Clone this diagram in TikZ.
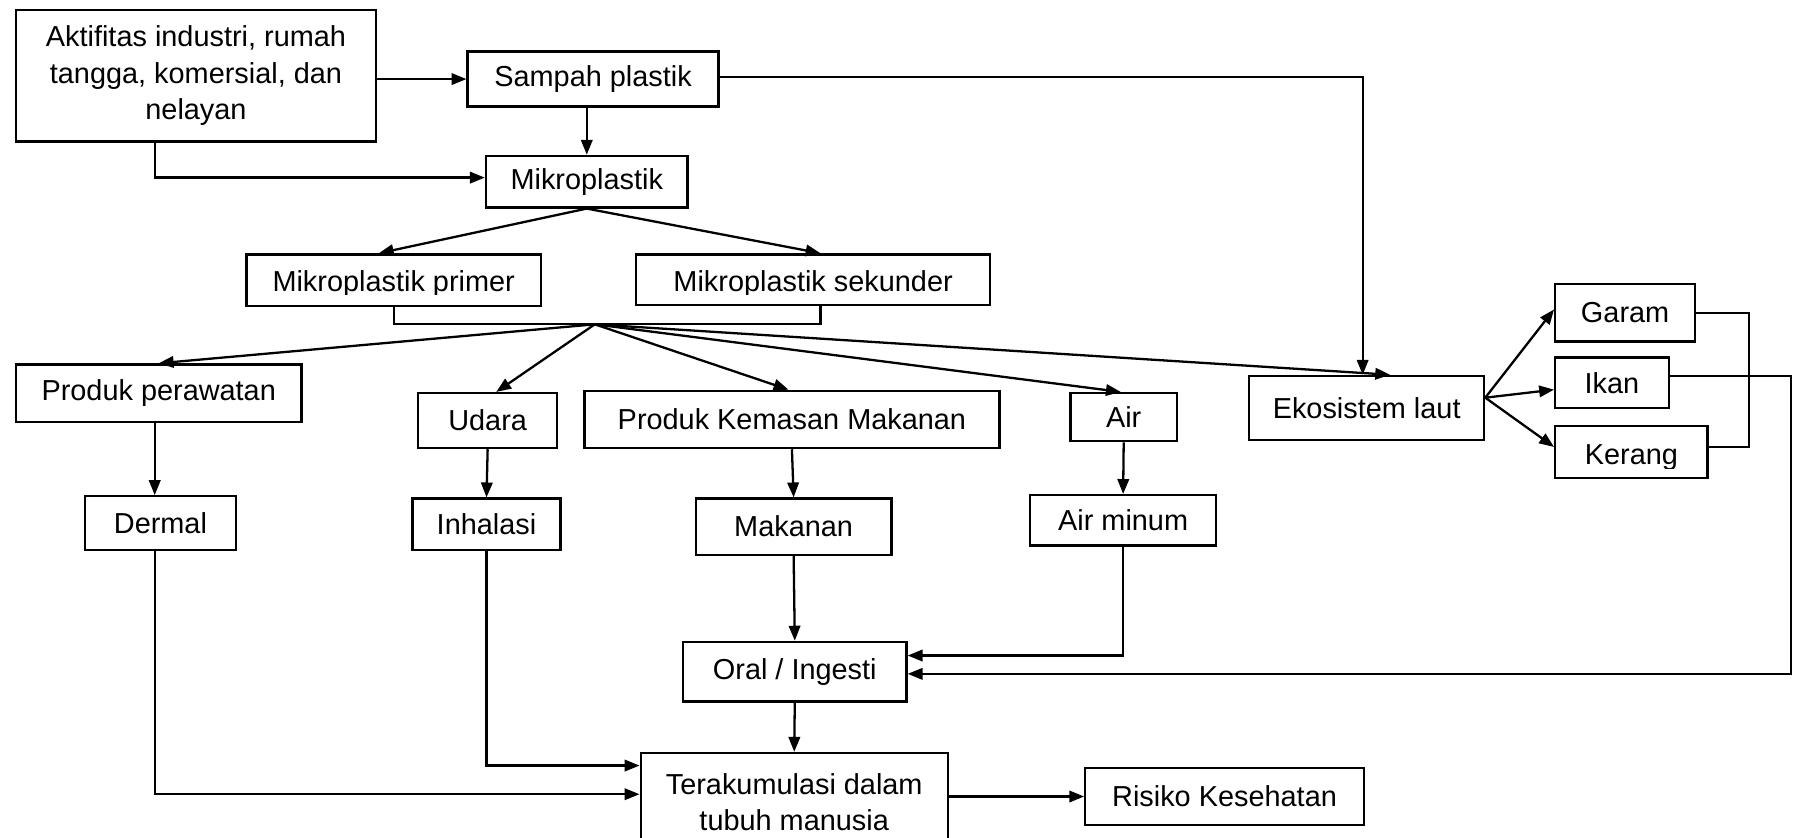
\documentclass[tikz,border=0pt]{standalone}
\usepackage{fontspec}
\setmainfont{Liberation Sans}
\usetikzlibrary{arrows.meta,calc}
\begin{document}
\begin{tikzpicture}[x=0.5pt,y=-0.5pt,
  box/.style={draw, line width=1pt, inner sep=0pt, align=center, font=\fontsize{12.6}{15.8}\selectfont},
  txt/.style={inner sep=0pt, font=\fontsize{12.6}{15.8}\selectfont, anchor=base},
  wh/.style 2 args={minimum width=#1*0.5pt, minimum height=#2*0.5pt},
  line/.style={line width=1pt},
  arr/.style={line width=1pt, -{Triangle[length=6.5pt,width=5pt]}}]
\useasboundingbox (0,0) rectangle (1568,731);
% nodes
\node[box,wh={314}{115}] (akt) at (171,66) {Aktifitas industri, rumah\\tangga, komersial, dan\\nelayan};
\node[box,wh={219}{48}] (sampah) at (517.5,69) {Sampah plastik};
\node[box,wh={176}{45}] (mikro) at (512,158.5) {Mikroplastik};
\node[box,wh={257}{45}] (primer) at (343.5,244.5) {};
\node[box,wh={309}{44}] (sekunder) at (709.5,244) {};
\node[box,wh={249}{50}] (produk) at (138.5,343) {Produk perawatan};
\node[box,wh={121}{48}] (udara) at (425.5,367) {Udara};
\node[box,wh={362}{50}] (kemasan) at (691,366) {Produk Kemasan Makanan};
\node[box,wh={93}{42}] (air) at (980.5,364) {Air};
\node[box,wh={205}{56}] (eko) at (1192.5,356) {Ekosistem laut};
\node[box,wh={122}{50}] (garam) at (1418,273) {Garam};
\node[box,wh={99}{44}] (ikan) at (1406.5,334) {Ikan};
\node[box,wh={133}{45}] (kerang) at (1423.5,394.5) {};
\node[box,wh={132}{47}] (dermal) at (140,456.5) {Dermal};
\node[box,wh={129}{45}] (inhal) at (424.5,457.5) {Inhalasi};
\node[box,wh={171}{49}] (makanan) at (692.5,459.5) {Makanan};
\node[box,wh={162}{44}] (airmin) at (980,454) {Air minum};
\node[box,wh={195}{52}] (oral) at (693.5,586) {Oral / Ingesti};
\node[box,wh={268}{86}] (terak) at (693,700) {Terakumulasi dalam\\tubuh manusia};
\node[box,wh={243}{50}] (risiko) at (1068.5,695) {Risiko Kesehatan};
% texts whose descenders are cut by their box
\begin{scope}
\clip (primer.north west) rectangle ($(primer.east)+(0,12.5)$);
\node[txt] (primertxt) at ($(primer.center)+(0,10)$) {Mikroplastik primer};
\end{scope}
\begin{scope}
\clip (sekunder.north west) rectangle ($(sekunder.east)+(0,13)$);
\node[txt] (sekundertxt) at ($(sekunder.center)+(0,10.5)$) {Mikroplastik sekunder};
\end{scope}
\begin{scope}
\clip (kerang.north west) rectangle ($(kerang.east)+(0,14)$);
\node[txt] (kerangtxt) at ($(kerang.center)+(0,11)$) {Kerang};
\end{scope}
% helper coordinates
\coordinate (a1) at (135,155);
\coordinate (c1) at (1189,67);
\coordinate (hub) at (519,283);
\coordinate (sk) at ($(sekunder.south)+(6.5,0)$);
\coordinate (gk) at (1526,0);
\coordinate (ke) at ($(kerang.east)+(0,-4.5)$);
\coordinate (ie) at ($(ikan.east)+(0,-6)$);
\coordinate (rx) at (1563,0);
\coordinate (o1) at ($(oral.east)+(0,-14)$);
\coordinate (o2) at ($(oral.east)+(0,2)$);
\coordinate (t1) at ($(terak.west)+(0,-32)$);
\coordinate (t2) at ($(terak.west)+(0,-7)$);
\coordinate (d1) at ($(dermal.south)+(-5,0)$);
\coordinate (es) at ($(eko.east)+(0,-9)$);
% connectors
\draw[arr] (akt.east |- sampah.west) -- (sampah.west);
\draw[arr] (sampah.south -| mikro.north) -- (mikro.north);
\draw[arr] (akt.south -| a1) -- (a1) -- (mikro.west |- a1);
\draw[arr] (sampah.east |- c1) -- (c1) -- (c1 |- eko.north);
\draw[arr] (mikro.south) -- ($(primer.north)+(-13,0)$);
\draw[arr] (mikro.south) -- ($(sekunder.north)+(6.5,0)$);
\draw[line] (primer.south) -- (primer.south |- hub) -- (sk |- hub) -- (sk);
\draw[arr] (hub) -- (produk.north);
\draw[arr] (hub) -- ($(udara.north)+(7.5,0)$);
\draw[arr] (hub) -- ($(kemasan.north)+(-3,0)$);
\draw[arr] (hub) -- ($(air.north)+(-2.5,0)$);
\draw[arr] (hub) -- ($(eko.north)+(20.5,0)$);
\draw[arr] ($(produk.south)+(-3.5,0)$) -- ($(dermal.north)+(-5,0)$);
\draw[arr] (udara.south) -- (inhal.north);
\draw[arr] (kemasan.south) -- (makanan.north);
\draw[arr] (air.south) -- (airmin.north);
\draw[arr] (es) -- ($(garam.west)+(0,-3)$);
\draw[arr] (es) -- ($(ikan.west)+(0,6)$);
\draw[arr] (es) -- ($(kerang.west)+(0,-4.5)$);
\draw[line] (garam.east) -- (garam.east -| gk) -- (ke -| gk) -- (ke);
\draw[arr] (ie) -- (ie -| rx) -- (o2 -| rx) -- (o2);
\draw[arr] (airmin.south) -- (airmin.south |- o1) -- (o1);
\draw[arr] (makanan.south) -- (oral.north);
\draw[arr] (oral.south) -- (terak.north);
\draw[arr] (inhal.south) -- (inhal.south |- t1) -- (t1);
\draw[arr] (d1) -- (d1 |- t2) -- (t2);
\draw[arr] (terak.east |- risiko.west) -- (risiko.west);
\end{tikzpicture}
\end{document}
